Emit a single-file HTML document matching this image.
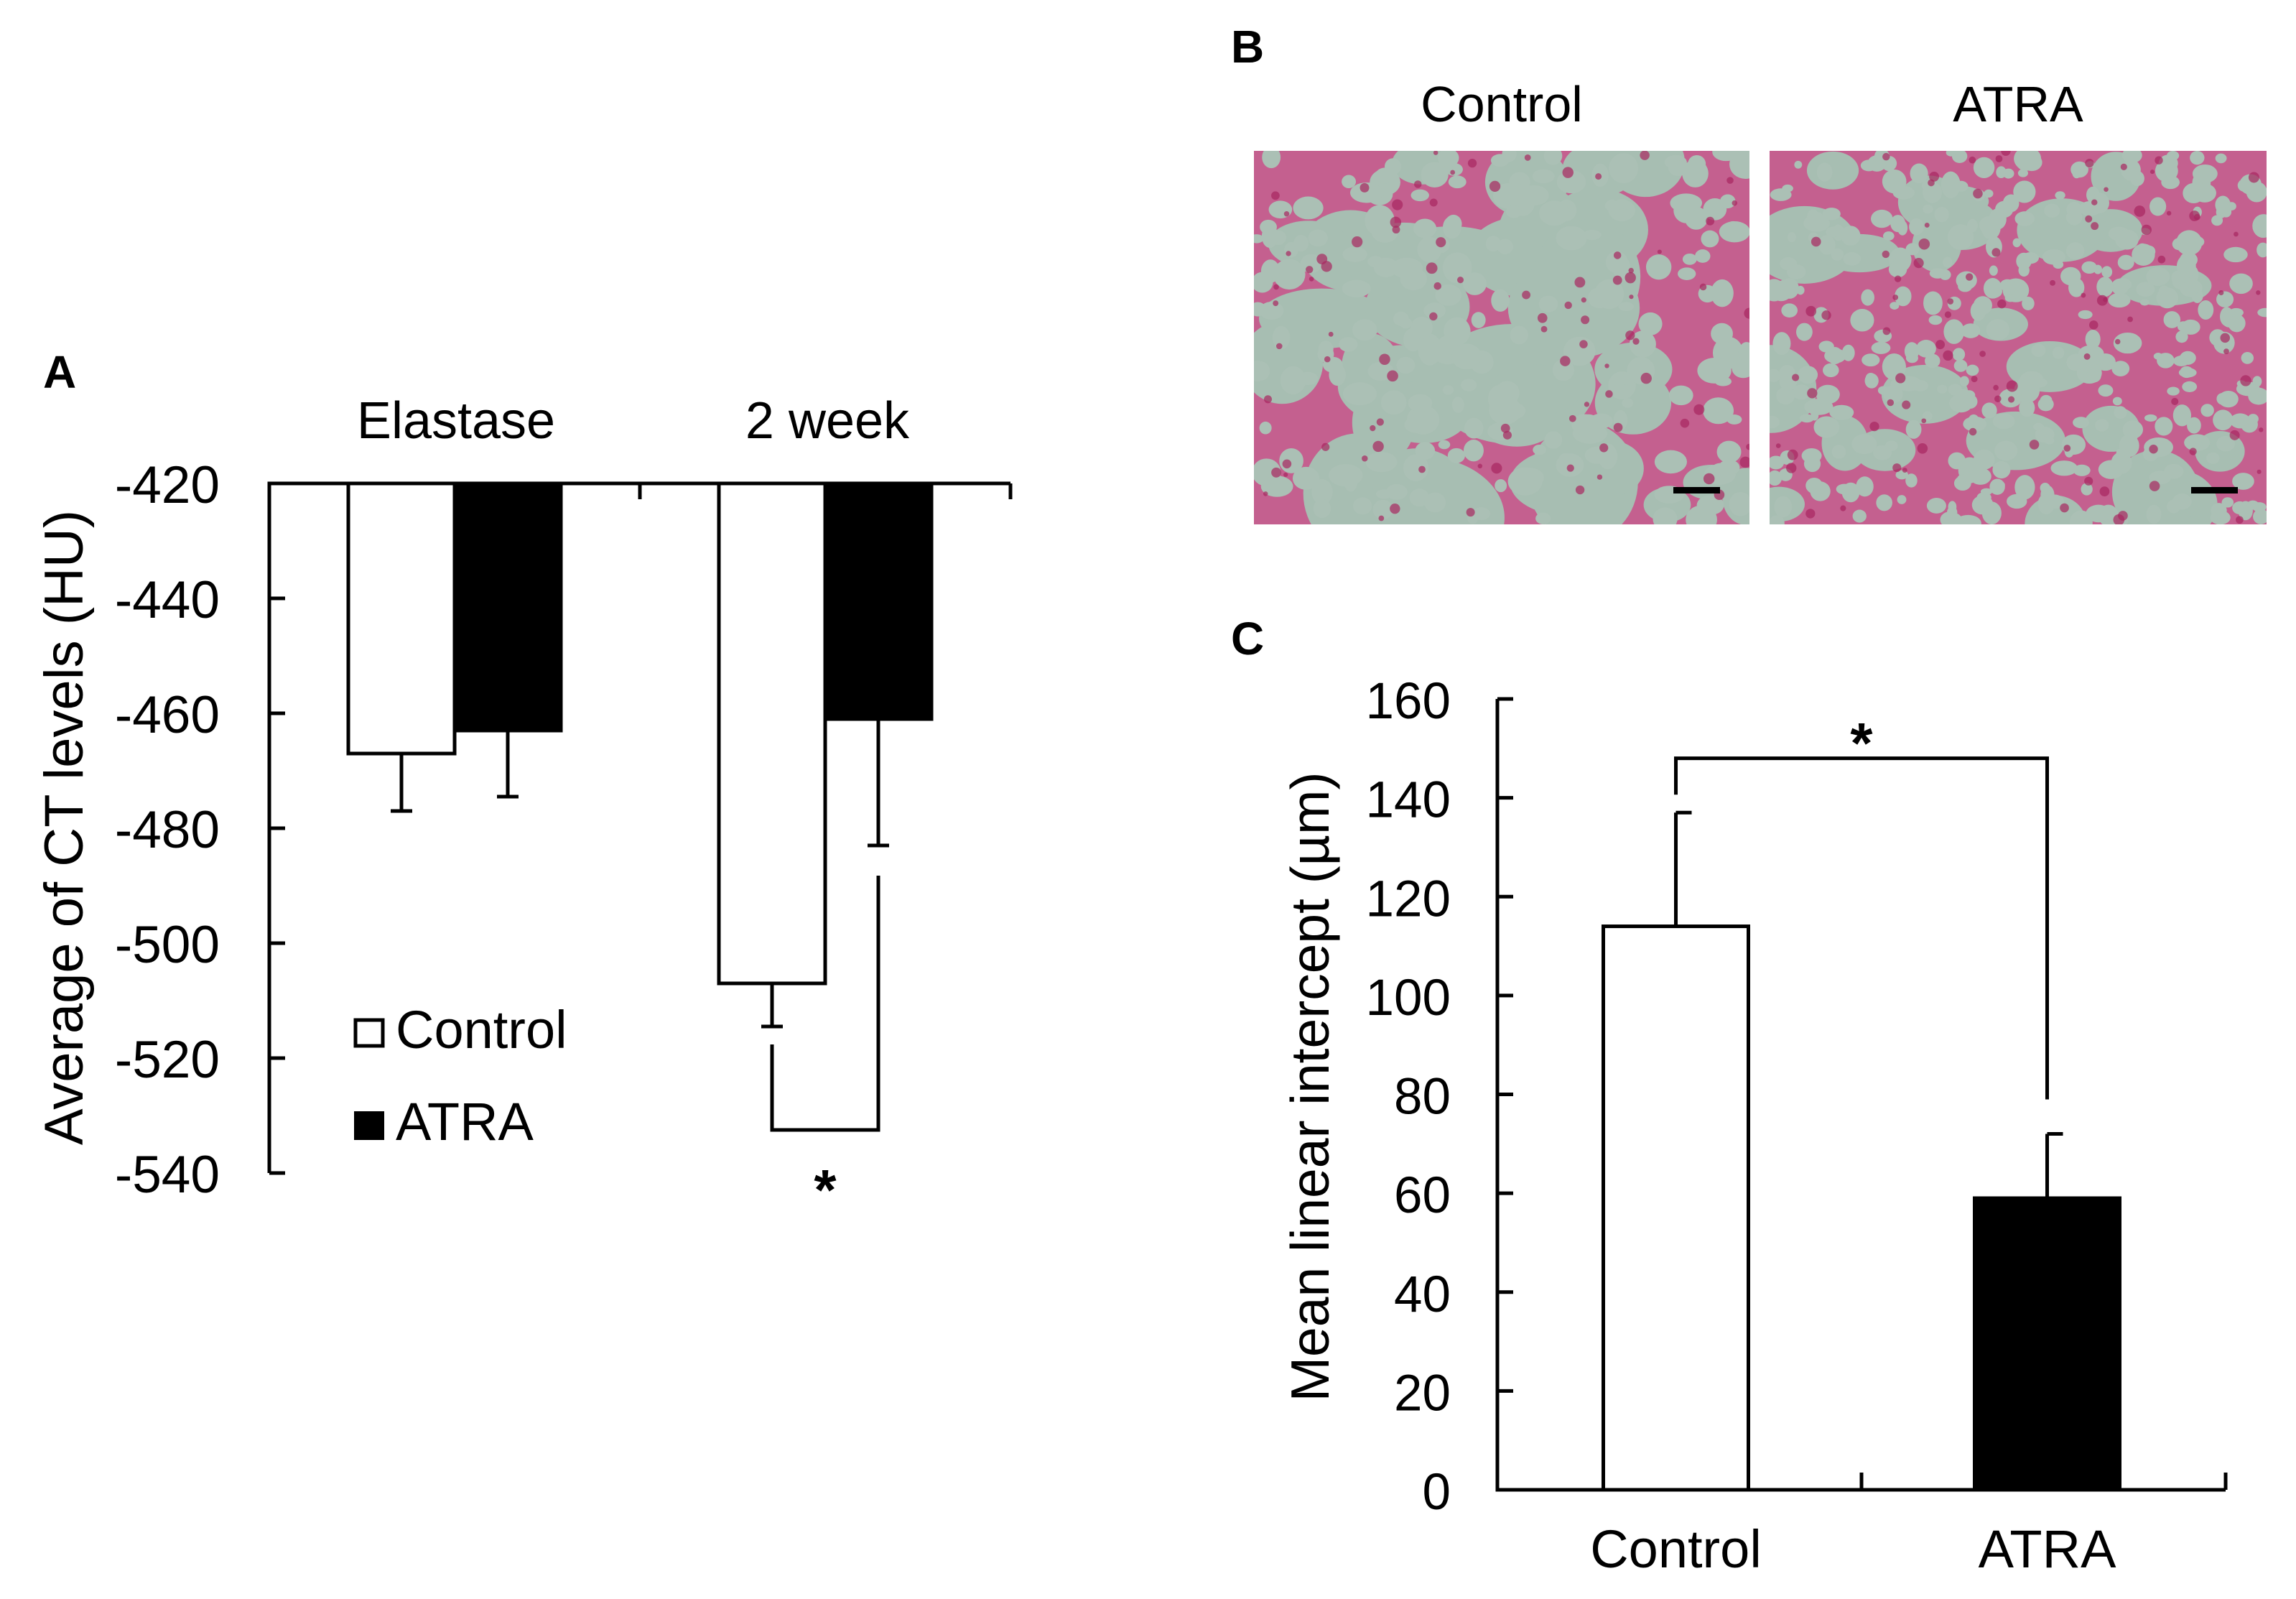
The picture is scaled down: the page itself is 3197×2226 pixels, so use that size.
<!DOCTYPE html>
<html><head><meta charset="utf-8"><style>
html,body{margin:0;padding:0;background:#fff}
svg{display:block}
text{font-family:"Liberation Sans",Arial,sans-serif;fill:#000}
</style></head><body>
<svg id="fig" width="3197" height="2226" viewBox="0 0 3197 2226" xmlns="http://www.w3.org/2000/svg">
<g id="panelA"></g>
<g id="panelB">
 <text x="1714" y="87" font-size="64" font-weight="bold">B</text>
 <text x="2091" y="169" font-size="70" text-anchor="middle">Control</text>
 <text x="2810" y="169" font-size="70" text-anchor="middle">ATRA</text>
 <g id="histoC"></g>
 <g id="histoA"></g>
 <rect x="2330" y="678" width="65" height="9" fill="#000"/>
 <rect x="3051" y="678" width="65" height="9" fill="#000"/>
</g>
<g id="panelC"></g>
</svg>
<script>
// ---------- Panel A data ----------
const aGroups = ["Elastase", "2 week"];
const aControl = [-467, -507];
const aControlErr = [-477, -514.5];
const aAtra = [-463, -461];
const aAtraErr = [-474.5, -483];
const aTicks = [-420, -440, -460, -480, -500, -520, -540];
// ---------- Panel C data ----------
const cCats = ["Control", "ATRA"];
const cValues = [114, 59];
const cErrTop = [137, 72];
const cTicks = [0, 20, 40, 60, 80, 100, 120, 140, 160];

const NS = "http://www.w3.org/2000/svg";
function mk(parent, tag, attrs, txt) {
  const e = document.createElementNS(NS, tag);
  for (const k in attrs) e.setAttribute(k, attrs[k]);
  if (txt !== undefined) e.textContent = txt;
  parent.appendChild(e);
  return e;
}
const SW = 5;

// ---------- Panel A ----------
(function () {
  const g = document.getElementById("panelA");
  const x0 = 375, x1 = 1407, yTop = 673, yBot = 1633;
  const vMax = -420, vMin = -540;
  const y = v => yTop + (vMax - v) / (vMax - vMin) * (yBot - yTop);
  const groupW = (x1 - x0) / aGroups.length;
  const barW = 148;
  let t = mk(g, "text", {x: 60, y: 540, "font-size": 64, "font-weight": "bold"}, "A");
  
  
  t = mk(g, "text", {x: 0, y: 0, "font-size": 76, "text-anchor": "middle", transform: "translate(115,1152) rotate(-90)"}, "Average of CT levels (HU)");
  
  
  aTicks.forEach(v => {
    const tk = mk(g, "line", {x1: x0, x2: x0 + 22, y1: y(v), y2: y(v), stroke: "#000", "stroke-width": SW});
    
    
    const tl = mk(g, "text", {x: 306, y: y(v) + 27, "font-size": 73, "text-anchor": "end"}, String(v));
    
    
  });
  aGroups.forEach((name, i) => {
    const gx = x0 + groupW * i;
    const cx = gx + groupW / 2;
    const lbl = mk(g, "text", {x: cx + (i ? 3 : 2), y: 610, "font-size": 72, "text-anchor": "middle"}, name);
    
    
    const xc = cx - barW, xa = cx;
    const cb = mk(g, "rect", {x: xc, y: yTop, width: barW, height: y(aControl[i]) - yTop, fill: "#fff", stroke: "#000", "stroke-width": SW});
    
    
    const ab = mk(g, "rect", {x: xa, y: yTop, width: barW, height: y(aAtra[i]) - yTop, fill: "#000", stroke: "#000", "stroke-width": SW});
    
    
    [[xc + barW / 2, aControl[i], aControlErr[i]], [xa + barW / 2, aAtra[i], aAtraErr[i]]].forEach(([ex, v, e]) => {
      const el = mk(g, "path", {d: `M${ex},${y(v)}V${y(e)}M${ex - 15},${y(e)}H${ex + 15}`, stroke: "#000", "stroke-width": SW, fill: "none"});
      
      
    });
    const tk = mk(g, "line", {x1: gx + groupW, x2: gx + groupW, y1: yTop, y2: yTop + 22, stroke: "#000", "stroke-width": SW});
    
    
  });
  const ax = mk(g, "path", {d: `M${x0},${yBot}V${yTop}H${x1}`, stroke: "#000", "stroke-width": SW, fill: "none"});
  
  
  const cx2 = x0 + groupW * 1.5;
  const lx = cx2 - barW / 2, rx = cx2 + barW / 2;
  const by = y(-532.5);
  const br = mk(g, "path", {d: `M${lx},${y(aControlErr[1]) + 25}V${by}H${rx}V${y(aAtraErr[1]) + 42}`, stroke: "#000", "stroke-width": SW, fill: "none"});
  
  
  const st = mk(g, "text", {x: cx2, y: 1684, "font-size": 80, "font-weight": "bold", "text-anchor": "middle"}, "*");
  
  
  const lg = mk(g, "g", {});
  
  
  const b1 = mk(lg, "rect", {x: 495, y: 1420, width: 38, height: 36, fill: "#fff", stroke: "#000", "stroke-width": SW});
  
  
  const l1 = mk(lg, "text", {x: 551, y: 1459, "font-size": 74}, "Control");
  
  
  const b2 = mk(lg, "rect", {x: 493, y: 1547, width: 42, height: 40, fill: "#000"});
  
  
  const l2 = mk(lg, "text", {x: 551, y: 1587, "font-size": 74}, "ATRA");
  
  
})();

// ---------- Panel C ----------
(function () {
  const g = document.getElementById("panelC");
  const x0 = 2085, x1 = 3099, y0 = 2074, yT = 973;
  const vMax = 160;
  const y = v => y0 - v / vMax * (y0 - yT);
  const groupW = (x1 - x0) / cCats.length;
  const barW = 202;
  let t = mk(g, "text", {x: 1714, y: 911, "font-size": 64, "font-weight": "bold"}, "C");
  
  
  t = mk(g, "text", {x: 0, y: 0, "font-size": 75, "text-anchor": "middle", transform: "translate(1850,1513) rotate(-90)"}, "Mean linear intercept (\u00b5m)");
  
  
  cTicks.forEach(v => {
    const tk = mk(g, "line", {x1: x0, x2: x0 + 22, y1: y(v), y2: y(v), stroke: "#000", "stroke-width": SW});
    
    
    const tl = mk(g, "text", {x: 2020, y: y(v) + 27, "font-size": 71, "text-anchor": "end"}, String(v));
    
    
  });
  const cxs = [];
  cCats.forEach((name, i) => {
    const cx = x0 + groupW * (i + 0.5) + (i ? 5 : -5);
    cxs.push(cx);
    const b = mk(g, "rect", {x: cx - barW / 2, y: y(cValues[i]), width: barW, height: y0 - y(cValues[i]), fill: i ? "#000" : "#fff", stroke: "#000", "stroke-width": SW});
    
    
    const e = mk(g, "path", {d: `M${cx},${y(cValues[i])}V${y(cErrTop[i])}M${cx},${y(cErrTop[i])}H${cx + 22}`, stroke: "#000", "stroke-width": SW, fill: "none"});
    
    
    const l = mk(g, "text", {x: cx, y: 2182, "font-size": 74, "text-anchor": "middle"}, name);
    
    
    const tk = mk(g, "line", {x1: x0 + groupW * (i + 1), x2: x0 + groupW * (i + 1), y1: y0, y2: y0 - 24, stroke: "#000", "stroke-width": SW});
    
    
  });
  const ax = mk(g, "path", {d: `M${x0},${yT}V${y0}H${x1}`, stroke: "#000", "stroke-width": SW, fill: "none"});
  
  
  const by = y(148);
  const br = mk(g, "path", {d: `M${cxs[0]},${y(cErrTop[0]) - 25}V${by}H${cxs[1]}V${y(cErrTop[1]) - 48}`, stroke: "#000", "stroke-width": SW, fill: "none"});
  
  
  const st = mk(g, "text", {x: (cxs[0] + cxs[1]) / 2, y: 1062, "font-size": 80, "font-weight": "bold", "text-anchor": "middle"}, "*");
  
  
})();

// ---------- Panel B histology textures (decorative) ----------
function histo(id, x, yy, w, h, seed, nLarge, rL, nSmall, rS) {
  const g = document.getElementById(id);
  const clip = mk(g, "clipPath", {id: id + "clip"});
  mk(clip, "rect", {x: x, y: yy, width: w, height: h});
  const inner = mk(g, "g", {"clip-path": `url(#${id}clip)`});
  mk(inner, "rect", {x: x, y: yy, width: w, height: h, fill: "#c4608f"});
  let s = seed;
  const rnd = () => { s = (s * 16807) % 2147483647; return s / 2147483647; };
  for (let i = 0; i < nLarge; i++) {
    const r = rL[0] + rnd() * (rL[1] - rL[0]);
    mk(inner, "ellipse", {cx: x + rnd() * w, cy: yy + rnd() * h, rx: r * (0.8 + rnd() * 0.7), ry: r * (0.6 + rnd() * 0.5), fill: "#a7beb2"});
  }
  for (let i = 0; i < nSmall; i++) {
    const r = rS[0] + rnd() * (rS[1] - rS[0]);
    mk(inner, "ellipse", {cx: x + rnd() * w, cy: yy + rnd() * h, rx: r * (0.8 + rnd() * 0.5), ry: r * (0.7 + rnd() * 0.5), fill: "#abc0b5"});
  }
  for (let i = 0; i < 90; i++) {
    mk(inner, "circle", {cx: x + rnd() * w, cy: yy + rnd() * h, r: 3 + rnd() * 5, fill: "#a82660", opacity: 0.7});
  }
}
histo("histoC", 1746, 210, 690, 520, 12345, 38, [35, 85], 200, [8, 20]);
histo("histoA", 2464, 210, 692, 520, 67891, 24, [28, 60], 380, [6, 16]);
</script>
</body></html>
